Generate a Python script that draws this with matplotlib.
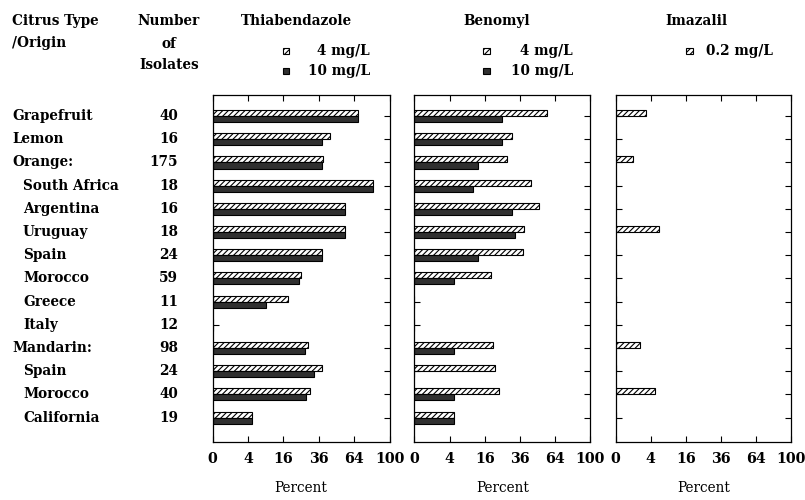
import matplotlib
matplotlib.use("Agg")
import matplotlib.pyplot as plt
import matplotlib.transforms as mtransforms
from matplotlib.patches import Rectangle
import numpy as np

plt.rcParams['font.family'] = ['DejaVu Serif']
plt.rcParams['font.weight'] = 'bold'
plt.rcParams['hatch.linewidth'] = 0.8

# rows of the table
origins = ['Grapefruit', 'Lemon', 'Orange:', 'South Africa', 'Argentina', 'Uruguay',
           'Spain', 'Morocco', 'Greece', 'Italy', 'Mandarin:', 'Spain', 'Morocco',
           'California']
indented = [False, False, False, True, True, True, True, True, True, True,
            False, True, True, True]
isolates = [40, 16, 175, 18, 16, 18, 24, 59, 11, 12, 98, 24, 40, 19]

# percent of resistant isolates
thia_4 = [68, 44, 39, 82, 56, 56, 38, 25, 18, 0, 29, 38, 30, 5]
thia_10 = [68, 38, 38, 82, 56, 56, 38, 24, 9, 0, 27, 33, 28, 5]
beno_4 = [57, 31, 28, 44, 50, 39, 38, 19, 0, 0, 20, 21, 23, 5]
beno_10 = [25, 25, 13, 11, 31, 33, 13, 5, 0, 0, 5, 0, 5, 5]
imaz_02 = [3, 0, 1, 0, 0, 6, 0, 0, 0, 0, 2, 0, 5, 0]

x_ticks = [0, 4, 16, 36, 64, 100]

W, H = 805, 500
FS = 9.8
fig = plt.figure(figsize=(W / 100, H / 100), dpi=100)

def fx(px):
    return px / W

def fy(py):
    return 1 - py / H

panels = [(212.7, 389.5), (414.3, 590.3), (615.7, 791.0)]
top, bottom = 94.5, 442.0

rows = np.arange(len(origins))
bh = 0.26
hatched = dict(facecolor='white', edgecolor='black', hatch='//////', linewidth=0.8)
dark = dict(facecolor='#303030', edgecolor='black', linewidth=0.8)

series = [(thia_4, thia_10), (beno_4, beno_10), (imaz_02, None)]
axes = []
for (x0, x1), (low, high) in zip(panels, series):
    ax = fig.add_axes([fx(x0), fy(bottom), fx(x1 - x0), (bottom - top) / H])
    ax.set_xscale('function', functions=(np.sqrt, np.square))
    ax.set_xlim(0, 100)
    ax.set_ylim(14.05, -0.93)
    ax.barh(rows - bh, low, height=bh, align='edge', **hatched)
    if high is not None:
        ax.barh(rows, high, height=bh, align='edge', **dark)
    ax.set_xticks(x_ticks)
    ax.set_xticklabels([str(t) for t in x_ticks], fontsize=FS + 0.5)
    ax.set_yticks(rows)
    ax.set_yticklabels([])
    ax.tick_params(axis='both', direction='in', length=4, width=0.8,
                   top=True, right=True, pad=7)
    for s in ax.spines.values():
        s.set_linewidth(0.9)
    ax.set_xlabel('Percent', fontsize=FS, labelpad=11)
    axes.append(ax)

# row labels and isolate counts
tr = mtransforms.blended_transform_factory(fig.transFigure, axes[0].transData)
for i, (name, ind, n) in enumerate(zip(origins, indented, isolates)):
    fig.text(fx(23 if ind else 12), i, name, transform=tr, ha='left', va='center',
             fontsize=FS)
    fig.text(fx(178), i, str(n), transform=tr, ha='right', va='center', fontsize=FS)

# column headers
fig.text(fx(12), fy(21), 'Citrus Type', ha='left', va='center', fontsize=FS)
fig.text(fx(12), fy(43), '/Origin', ha='left', va='center', fontsize=FS)
fig.text(fx(169), fy(21), 'Number', ha='center', va='center', fontsize=FS)
fig.text(fx(169), fy(44), 'of', ha='center', va='center', fontsize=FS)
fig.text(fx(169), fy(65), 'Isolates', ha='center', va='center', fontsize=FS)

titles = ['Thiabendazole', 'Benomyl', 'Imazalil']
title_x = [296.5, 496.5, 696.5]
for t, x in zip(titles, title_x):
    fig.text(fx(x), fy(21), t, ha='center', va='center', fontsize=FS)

# legends
def key(px, py, style, label, text_right):
    sq = 6.5
    fig.patches.append(Rectangle((fx(px), fy(py + sq / 2)), fx(sq), sq / H,
                                 transform=fig.transFigure, **style))
    fig.text(fx(text_right), fy(py), label, ha='right', va='center', fontsize=FS)

key(282.7, 51, hatched, '4 mg/L', 370)
key(282.7, 71, dark, '10 mg/L', 370)
key(483.3, 51, hatched, '4 mg/L', 573)
key(483.3, 71, dark, '10 mg/L', 573)
key(686.0, 51, hatched, '0.2 mg/L', 773)

fig.savefig('out.png', dpi=100)
